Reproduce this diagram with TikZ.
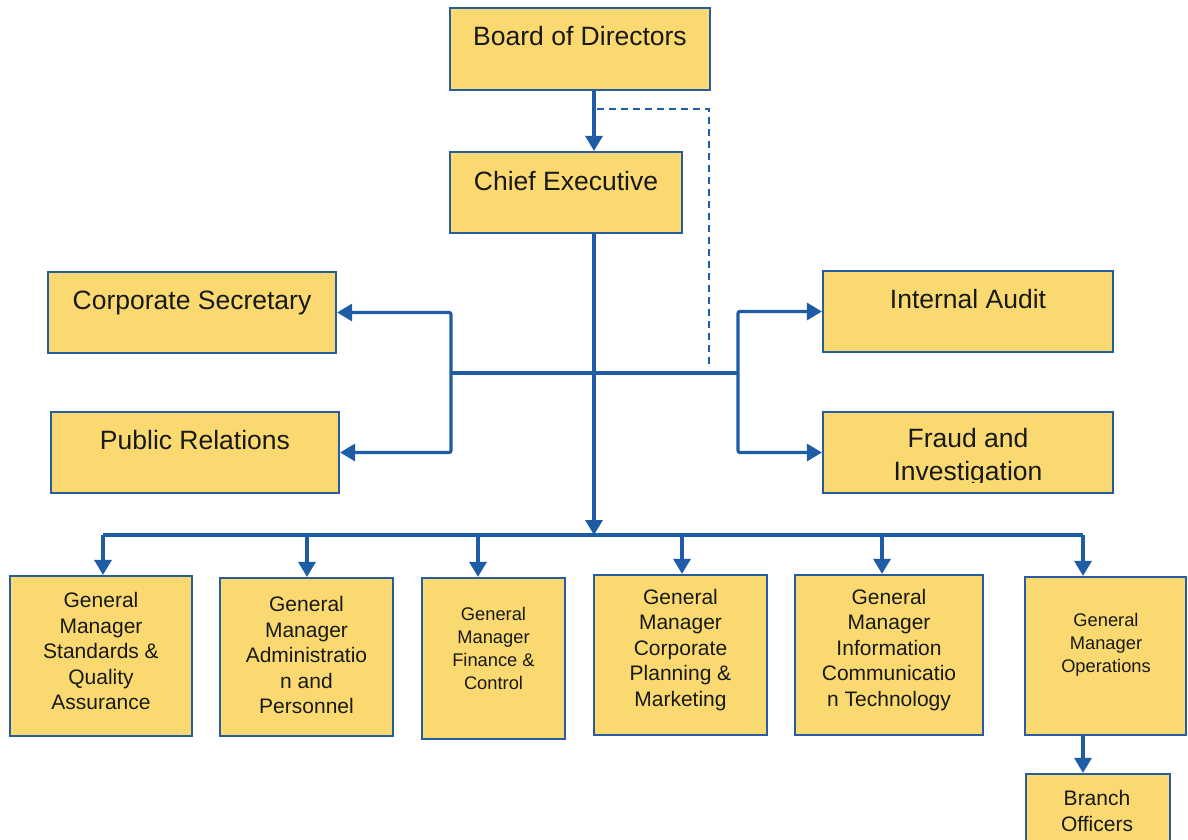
\documentclass[tikz,border=0pt]{standalone}
\usepackage{fontspec}
\setmainfont{Liberation Sans}
\usetikzlibrary{arrows.meta}
\definecolor{boxfill}{RGB}{250,218,112}
\definecolor{boxline}{RGB}{40,92,160}
\definecolor{conncol}{RGB}{30,92,165}
\begin{document}
\begin{tikzpicture}[x=1pt,y=-1pt,
  box/.style={draw=boxline, fill=boxfill, line width=2.2pt, inner sep=0pt, rectangle},
  conn/.style={draw=conncol, line width=3.2pt},
  arr/.style={conn, -{Triangle[width=17pt,length=15pt]}},
  dashline/.style={draw=conncol, line width=1.5pt, dash pattern=on 7pt off 5pt},
  txtL/.style={font=\fontsize{26.5}{33}\selectfont, text=black!90, align=center, inner sep=0pt},
  txtM/.style={font=\fontsize{21}{25.5}\selectfont, text=black!90, align=center, inner sep=0pt},
  txtS/.style={font=\fontsize{18.3}{23}\selectfont, text=black!90, align=center, inner sep=0pt}]
\clip (0,0) rectangle (1188,840);
\fill[white] (0,0) rectangle (1188,840);

% boxes
\node[box, minimum width=260pt, minimum height=82pt] (bod) at (580,49) {};
\node[box, minimum width=232pt, minimum height=81pt] (ce)  at (566,192.5) {};
\node[box, minimum width=288pt, minimum height=81pt] (cs)  at (192,312.5) {};
\node[box, minimum width=288pt, minimum height=81pt] (pr)  at (195,452.5) {};
\node[box, minimum width=290pt, minimum height=81pt] (ia)  at (968,311.5) {};
\node[box, minimum width=290pt, minimum height=81pt] (fi)  at (968,452.5) {};
\node[box, minimum width=182pt, minimum height=160pt] (g1) at (101,656) {};
\node[box, minimum width=173pt, minimum height=158pt] (g2) at (306.5,657) {};
\node[box, minimum width=143pt, minimum height=161pt] (g3) at (493.5,658.5) {};
\node[box, minimum width=173pt, minimum height=160pt] (g4) at (680.5,655) {};
\node[box, minimum width=188pt, minimum height=160pt] (g5) at (889,655) {};
\node[box, minimum width=161pt, minimum height=158pt] (g6) at (1105.5,656) {};
\node[box, minimum width=144pt, minimum height=90pt] (br) at (1098,819) {};

% texts
\node[txtL, anchor=base] (tbod) at (580,45.5) {Board of Directors};
\node[txtL, anchor=base] (tce) at (566,190) {Chief Executive};
\node[txtL, anchor=base] (tcs) at (192,309.5) {Corporate Secretary};
\node[txtL, anchor=base] (tpr) at (195,449.5) {Public Relations};
\node[txtL, anchor=base] (tia) at (968,308.5) {Internal Audit};
\begin{scope}
\clip (824,400) rectangle (1112,482);
\node[txtL, anchor=base] (tfi1) at (968,447.5) {Fraud and};
\node[txtL, anchor=base] (tfi2) at (968,480.5) {Investigation};
\end{scope}
\node[txtM] (tg1) at (101,651) {General\\Manager\\Standards \&\\Quality\\Assurance};
\node[txtM] (tg2) at (306.5,655) {General\\Manager\\Administratio\\n and\\Personnel};
\node[txtS] (tg3) at (493.5,648) {General\\Manager\\Finance \&\\Control};
\node[txtM] (tg4) at (680.5,650) {General\\Manager\\Corporate\\Planning \&\\Marketing};
\node[txtM] (tg5) at (889,650) {General\\Manager\\Information\\Communicatio\\n Technology};
\node[txtS] (tg6) at (1106,645) {General\\Manager\\Operations};
\node[txtM] (tbr) at (1097,811) {Branch\\Officers};

% connector coordinates
\coordinate (sx) at (594,0);
\coordinate (bus) at (0,535);
\coordinate (ml) at (451,373);
\coordinate (mr) at (738,373);
\coordinate (d1) at (597,109);
\coordinate (dend) at (709,366);
\coordinate (a1) at (103,535);
\coordinate (a2) at (307,535);
\coordinate (a3) at (478,535);
\coordinate (a4) at (682,535);
\coordinate (a5) at (882,535);
\coordinate (a6) at (1083,535);

% connectors
\draw[dashline] (d1) -| (dend);
\draw[arr] (bod.south -| sx) -- (ce.north -| sx);
\draw[arr] (ce.south -| sx) -- (bus -| sx);
\draw[conn] (a1) -- (a6);
\draw[conn] (ml) -- (mr);
\draw[arr, rounded corners=2pt] (ml) |- (cs.east);
\draw[arr, rounded corners=2pt] (ml) |- (pr.east);
\draw[arr, rounded corners=2pt] (mr) |- (ia.west);
\draw[arr, rounded corners=2pt] (mr) |- (fi.west);
\draw[arr] (a1) -- (a1 |- g1.north);
\draw[arr] (a2) -- (a2 |- g2.north);
\draw[arr] (a3) -- (a3 |- g3.north);
\draw[arr] (a4) -- (a4 |- g4.north);
\draw[arr] (a5) -- (a5 |- g5.north);
\draw[arr] (a6) -- (a6 |- g6.north);
\draw[arr] (g6.south -| a6) -- (br.north -| a6);
\end{tikzpicture}
\end{document}
